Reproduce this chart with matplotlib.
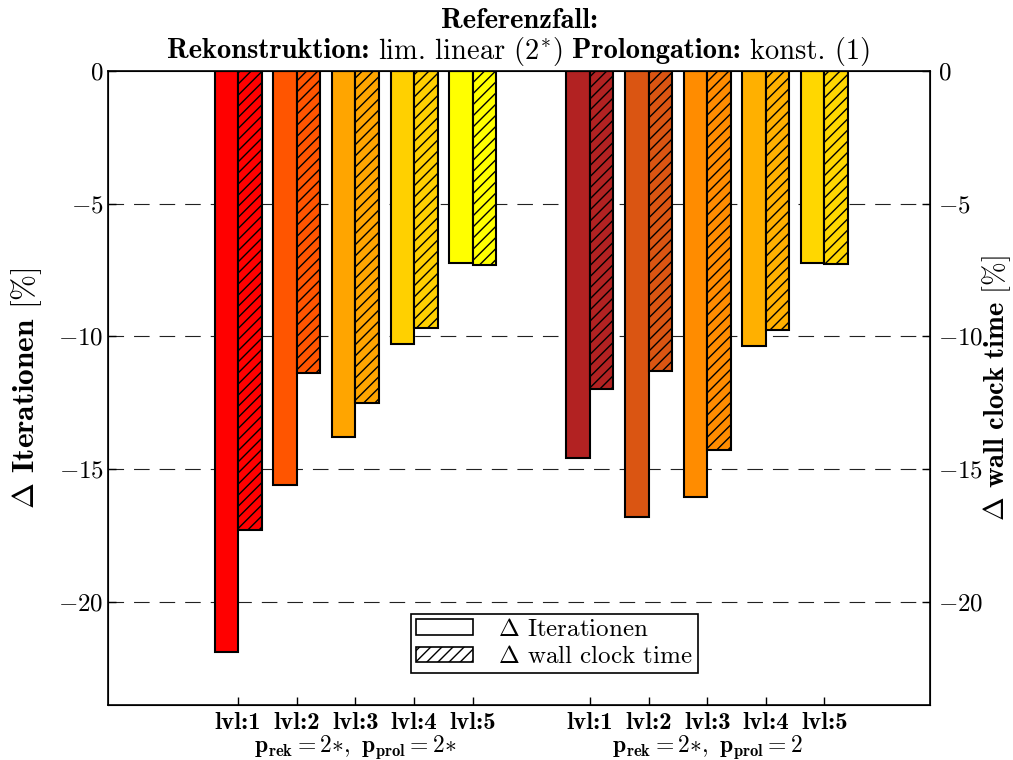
import matplotlib
matplotlib.use("Agg")
import matplotlib.pyplot as plt
import numpy as np
from matplotlib.patches import Patch

plt.rcParams['font.family'] = 'cmr10'
plt.rcParams['mathtext.fontset'] = 'cm'
plt.rcParams['axes.formatter.use_mathtext'] = True
plt.rcParams['hatch.linewidth'] = 1.0

levels = ["lvl:1", "lvl:2", "lvl:3", "lvl:4", "lvl:5"]
group_labels = [r"$\mathbf{p_{rek}=2}{\ast},\ \mathbf{p_{prol}=2}{\ast}$",
                r"$\mathbf{p_{rek}=2}{\ast},\ \mathbf{p_{prol}=2}$"]

iter_g1 = [-21.9, -15.6, -13.8, -10.3, -7.23]
wall_g1 = [-17.3, -11.4, -12.5, -9.7, -7.33]
iter_g2 = [-14.6, -16.8, -16.05, -10.35, -7.24]
wall_g2 = [-12.0, -11.3, -14.3, -9.75, -7.29]

colors_g1 = ["#FF0000", "#FF5500", "#FFA500", "#FFD000", "#FFFF00"]
colors_g2 = ["#B22222", "#DA5512", "#FF8C00", "#FFB000", "#FFD700"]

W, H = 1013, 760
fig = plt.figure(figsize=(W/100, H/100), dpi=100)
ax = fig.add_axes([108/W, 1-705/H, (930-108)/W, (705-71)/H])

w = 0.4
pos1 = np.arange(5)
pos2 = np.arange(5) + 6

for pos, it, wa, cols in [(pos1, iter_g1, wall_g1, colors_g1),
                          (pos2, iter_g2, wall_g2, colors_g2)]:
    ax.bar(pos - w/2, it, w, color=cols, edgecolor='black', linewidth=1.5, zorder=3)
    ax.bar(pos + w/2, wa, w, color=cols, edgecolor='black', linewidth=1.5,
           hatch='///', zorder=3)

ax.axhline(0, color='#000060', lw=1.2, zorder=2)
ax.set_xlim(-2.22, 11.8)
ax.set_ylim(-23.9, 0)
ax.set_yticks([0, -5, -10, -15, -20])
for yv in [-5, -10, -15, -20]:
    ax.axhline(yv, color='#222222', lw=0.8, ls=(0, (14, 9)), zorder=1)

ax.set_xticks(np.concatenate([pos1, pos2]))
ax.set_xticklabels(levels + levels, fontfamily='cmb10', fontsize=18)
ax.tick_params(axis='x', direction='in', length=6, width=1, pad=5, top=False)
ax.tick_params(axis='y', direction='in', length=6, width=1, labelsize=18, pad=3)
for s in ax.spines.values():
    s.set_linewidth(1.2)

for gx, gl in zip([2, 8], group_labels):
    ax.text(gx, -(752-705)/634, gl, transform=ax.get_xaxis_transform(),
            ha='center', va='baseline', fontsize=17)

ax.set_ylabel(r"$\Delta$ $\mathbf{Iterationen}$ $[\%]$", fontsize=22.5)
ax.yaxis.set_label_coords((27-108)/822, 0.5)
ax.yaxis.label.set_verticalalignment('center')

ax2 = ax.twinx()
ax2.set_ylim(ax.get_ylim())
ax2.set_yticks([0, -5, -10, -15, -20])
ax2.tick_params(axis='y', direction='in', length=6, width=1, labelsize=18, pad=6)
ax2.set_ylabel(r"$\Delta$ $\mathbf{wall\ clock\ time}$ $[\%]$", fontsize=20.5)
ax2.yaxis.set_label_coords((997-108)/822, 0.5)
ax2.yaxis.label.set_verticalalignment('center')
ax2.yaxis.label.set_rotation(90)

# title: mixed bold/regular segments
def seg_line(segments, yc, size, gap):
    renderer = fig.canvas.get_renderer()
    texts = []
    for s, fam in segments:
        t = fig.text(0, yc, s, fontfamily=fam, fontsize=size, va='center', ha='left')
        texts.append(t)
    widths = [t.get_window_extent(renderer).width for t in texts]
    total = sum(widths) + gap * (len(texts) - 1)
    xc = (171 + 867) / 2
    x = xc - total / 2
    for t, wd in zip(texts, widths):
        t.set_x(x / W)
        x += wd + gap

seg_line([("Referenzfall:", 'cmb10')], 1 - 21/H, 20.5, 0)
seg_line([("Rekonstruktion:", 'cmb10'), ("lim. linear (2$^{\\ast}$)", 'cmr10'),
          ("Prolongation:", 'cmb10'), ("konst. (1)", 'cmr10')], 1 - 51/H, 20.5, 9)

handles = [Patch(facecolor='white', edgecolor='black', linewidth=1.2),
           Patch(facecolor='white', edgecolor='black', linewidth=1.2, hatch='///')]
leg = ax.legend(handles, [r"$\Delta$ Iterationen", r"$\Delta$ wall clock time"],
                loc='lower center', bbox_to_anchor=(0.543, 0.05), fontsize=18,
                frameon=True, fancybox=False, edgecolor='black', framealpha=1,
                handlelength=2.3, handleheight=0.6, borderpad=0.2, labelspacing=0.2,
                handletextpad=1.0, borderaxespad=0)
leg.get_frame().set_linewidth(1.2)

fig.savefig("out.png", dpi=100)
